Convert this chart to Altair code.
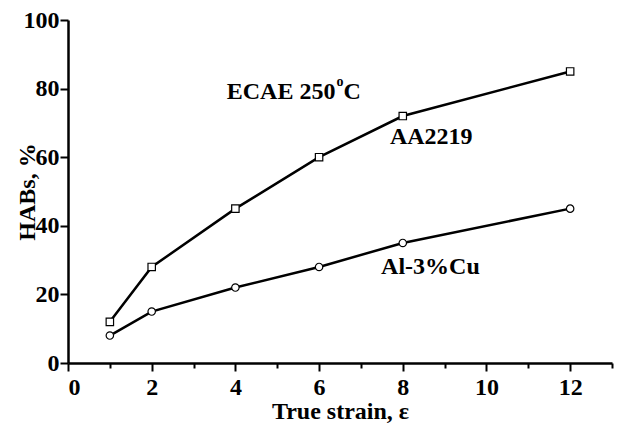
import altair as alt
import pandas as pd

strain = [1, 2, 4, 6, 8, 12]
aa2219 = [12, 28, 45, 60, 72, 85]
alcu = [8, 15, 22, 28, 35, 45]

df = pd.DataFrame({
    "strain": strain * 2,
    "habs": aa2219 + alcu,
    "alloy": ["AA2219"] * 6 + ["Al-3%Cu"] * 6,
})

labels = pd.DataFrame({
    "x": [8.68, 8.66],
    "y": [65.9, 28.0],
    "t": ["AA2219", "Al-3%Cu"],
})
ecae = pd.DataFrame({"x": [6.39], "y": [79.0], "t": ["ECAE 250"]})
sup = pd.DataFrame({"x": [6.39], "y": [79.0], "t": ["o"]})
cc = pd.DataFrame({"x": [6.39], "y": [79.0], "t": ["C"]})

FONT = "Liberation Serif"
FS = 24

xscale = alt.Scale(domain=[0, 13], nice=False, zero=False)
yscale = alt.Scale(domain=[0, 100], nice=False)

xaxis = alt.Axis(
    values=list(range(0, 14)),
    labelExpr="datum.value % 2 == 0 ? datum.label : ''",
    title="True strain, ε",
    grid=False,
    domainColor="black", domainWidth=2.5,
    tickColor="black", tickWidth=2,
    tickSize={"condition": {"test": "datum.value % 2 == 0", "value": 8}, "value": 5},
    labelFont=FONT, labelFontSize=FS, labelFontWeight="bold", labelColor="black",
    labelPadding=4,
    titleFont=FONT, titleFontSize=FS, titleFontWeight="bold", titleColor="black",
    titlePadding=0,
)
yaxis = alt.Axis(
    values=[0, 20, 40, 60, 80, 100],
    title="HABs, %",
    grid=False,
    domainColor="black", domainWidth=2.5,
    tickColor="black", tickWidth=2, tickSize=8,
    labelFont=FONT, labelFontSize=FS, labelFontWeight="bold", labelColor="black",
    labelPadding=1,
    titleFont=FONT, titleFontSize=FS, titleFontWeight="bold", titleColor="black",
    titleX=-41, titleY=171.5, titleBaseline="middle", titleAlign="center", titleAngle=270,
)

base = alt.Chart(df).encode(
    x=alt.X("strain:Q", scale=xscale, axis=xaxis),
    y=alt.Y("habs:Q", scale=yscale, axis=yaxis),
    detail="alloy:N",
)

line = base.mark_line(color="black", strokeWidth=2.5)
pts = base.mark_point(filled=False, fill="white", fillOpacity=1, stroke="black",
                      strokeWidth=1.2, size=55, opacity=1).encode(
    shape=alt.Shape("alloy:N", scale=alt.Scale(domain=["AA2219", "Al-3%Cu"],
                                              range=["square", "circle"]), legend=None)
)

txt_kw = dict(font=FONT, fontSize=FS, fontWeight="bold", color="black")
lab = alt.Chart(labels).mark_text(align="center", baseline="middle", **txt_kw).encode(
    x=alt.X("x:Q", scale=xscale), y=alt.Y("y:Q", scale=yscale), text="t:N")
e1 = alt.Chart(ecae).mark_text(align="right", baseline="middle", **txt_kw).encode(
    x=alt.X("x:Q", scale=xscale), y=alt.Y("y:Q", scale=yscale), text="t:N")
e2 = alt.Chart(sup).mark_text(align="left", baseline="middle", dx=1, dy=-10,
                              font=FONT, fontSize=14, fontWeight="bold", color="black").encode(
    x=alt.X("x:Q", scale=xscale), y=alt.Y("y:Q", scale=yscale), text="t:N")
e3 = alt.Chart(cc).mark_text(align="left", baseline="middle", dx=8, **txt_kw).encode(
    x=alt.X("x:Q", scale=xscale), y=alt.Y("y:Q", scale=yscale), text="t:N")

chart = alt.layer(line, pts, lab, e1, e2, e3).properties(
    width=544, height=343,
    padding={"left": 68, "top": 20, "right": 7, "bottom": 62},
    autosize=alt.AutoSizeParams(type="none"),
    background="white",
).configure_view(stroke=None)

chart.save("out.html", embed_options={"renderer": "svg", "actions": False})
